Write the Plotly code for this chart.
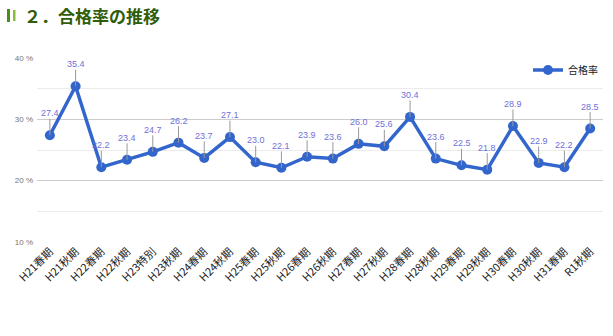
import plotly.graph_objects as go

categories = ["H21春期", "H21秋期", "H22春期", "H22秋期", "H23特別", "H23秋期", "H24春期",
              "H24秋期", "H25春期", "H25秋期", "H26春期", "H26秋期", "H27春期", "H27秋期",
              "H28春期", "H28秋期", "H29春期", "H29秋期", "H30春期", "H30秋期", "H31春期", "R1秋期"]
pass_rate = [27.4, 35.4, 22.2, 23.4, 24.7, 26.2, 23.7, 27.1, 23.0, 22.1, 23.9, 23.6,
             26.0, 25.6, 30.4, 23.6, 22.5, 21.8, 28.9, 22.9, 22.2, 28.5]
series_name = "合格率"
title_text = "２．合格率の推移"

W, H = 613, 336
L, R, T, B = 37, 10, 58, 94
PW, PH = W - L - R, H - T - B

def px(x):
    return (x - L) / PW

def py(y):
    return (H - B - y) / PH

font_fam = "Noto Sans CJK JP, Noto Sans, Arial, sans-serif"

fig = go.Figure()
fig.add_trace(go.Scatter(
    x=categories, y=pass_rate, mode="lines+markers", name=series_name,
    line=dict(color="#3366cc", width=3.5),
    marker=dict(color="#3366cc", size=10),
))

annotations = []
for c, v in zip(categories, pass_rate):
    annotations.append(dict(
        x=c, y=v, xref="x", yref="y", text=f"{v:.1f}",
        showarrow=True, arrowhead=0, arrowwidth=1, arrowcolor="#999999",
        ax=0, ay=-22, standoff=0,
        font=dict(family="Arial, Liberation Sans, sans-serif", size=9, color="#7070d8"),
        borderpad=0,
    ))

shapes = [
    dict(type="rect", xref="paper", yref="paper", x0=px(7), x1=px(10), y0=py(22), y1=py(9),
         fillcolor="#4c8c1c", line=dict(width=0)),
    dict(type="rect", xref="paper", yref="paper", x0=px(13), x1=px(15.5), y0=py(21), y1=py(10),
         fillcolor="#8dbb3c", line=dict(width=0)),
]

fig.update_layout(
    width=W, height=H,
    margin=dict(l=L, r=R, t=T, b=B),
    paper_bgcolor="white", plot_bgcolor="white",
    font=dict(family=font_fam),
    title=dict(text=f"<b>{title_text}</b>", xref="container", yref="container",
               x=24 / W, xanchor="left", y=1 - 17 / H, yanchor="middle",
               font=dict(size=17, color="#2f5d0a", family=font_fam)),
    showlegend=True,
    legend=dict(x=1, xanchor="right", y=py(70), yanchor="middle",
                font=dict(size=10, color="#222222"), bgcolor="rgba(0,0,0,0)",
                itemwidth=30),
    annotations=annotations,
    shapes=shapes,
    xaxis=dict(type="category", range=[-0.5, len(categories) - 0.5],
               tickangle=-45, showgrid=False, showline=False, zeroline=False,
               ticks="", tickfont=dict(size=11, color="#222222", family=font_fam)),
    yaxis=dict(range=[10, 40], tickmode="array", tickvals=[10, 20, 30, 40],
               ticktext=["10 %", "20 %", "30 %", "40 %"],
               showgrid=True, gridcolor="#cccccc", gridwidth=1, zeroline=False,
               showline=False, ticks="", ticklabelstandoff=3,
               tickfont=dict(size=8, color="#777777", family="Arial, Liberation Sans, sans-serif"),
               minor=dict(tickvals=[15, 25, 35], showgrid=True, gridcolor="#ebebeb", gridwidth=1)),
)

fig.write_html("out.html")
